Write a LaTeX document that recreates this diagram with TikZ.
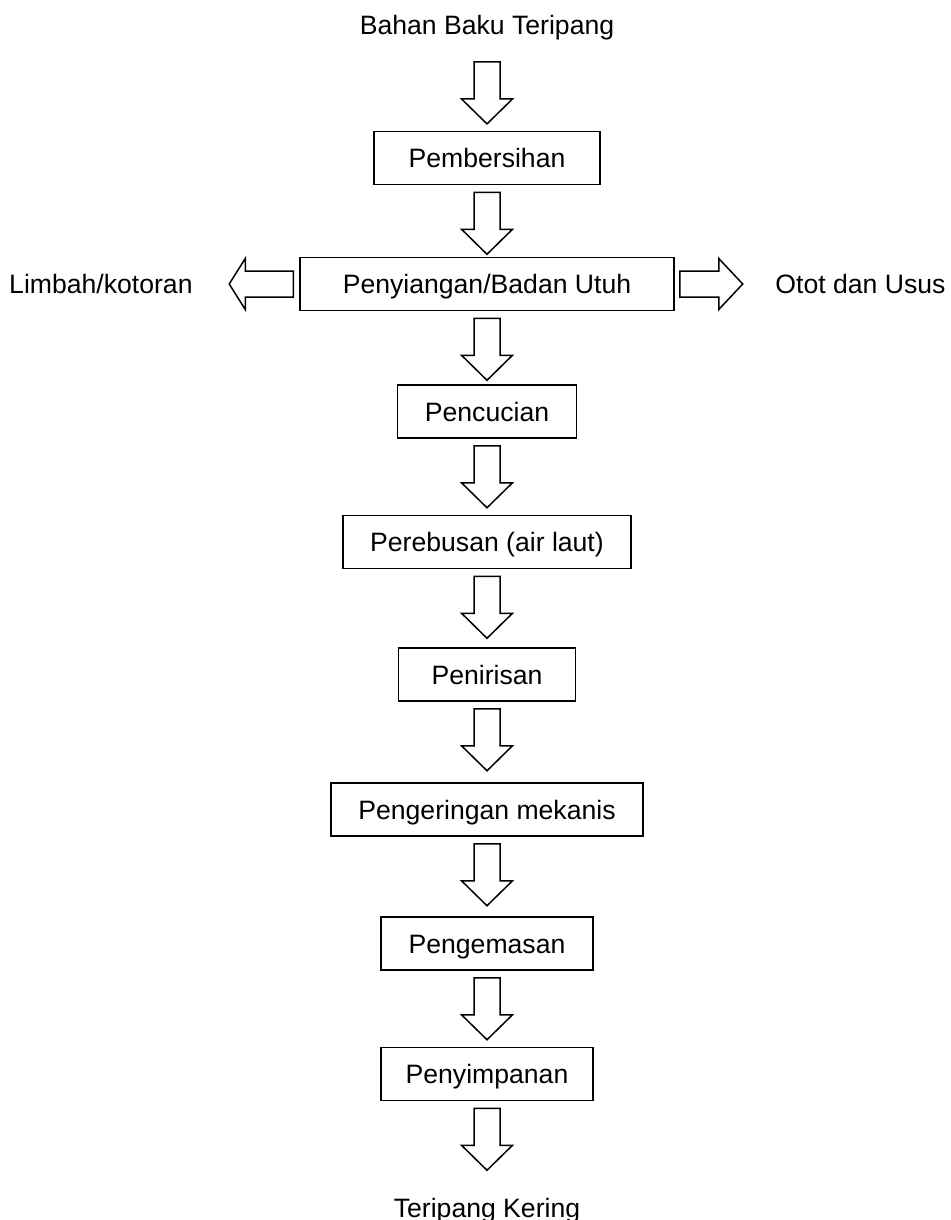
\documentclass[tikz,border=0pt]{standalone}
\usepackage{fontspec}
\setmainfont{Liberation Sans}
\usetikzlibrary{calc}

\tikzset{
  lbl/.style={inner sep=0pt, font=\fontsize{13.3}{16}\selectfont},
  box/.style={draw, line width=0.75pt, minimum height=26.5pt, inner sep=0pt,
    text height=9.6pt, text depth=0pt, font=\fontsize{13.3}{16}\selectfont},
  fatarrow/.style={draw, line width=0.75pt, line join=miter},
  fa gap/.store in=\fagap, fa len/.store in=\falen, fa head/.store in=\fahead,
  fa gap=3.5pt, fa len=31pt, fa head=12.5pt
}
% hollow block arrow from one node anchor towards another
\newcommand\fatarrow[3][]{%
  \begin{scope}[#1]
    \coordinate (fa-s) at ($(#2)!\fagap!(#3)$);
    \coordinate (fa-t) at ($(fa-s)!\falen!(#3)$);
    \coordinate (fa-b) at ($(fa-t)!\fahead!(fa-s)$);
    \draw[fatarrow] ($(fa-s)!6.5pt!90:(fa-t)$) -- ($(fa-b)!6.5pt!90:(fa-t)$)
      -- ($(fa-b)!12.75pt!90:(fa-t)$) -- (fa-t) -- ($(fa-b)!12.75pt!-90:(fa-t)$)
      -- ($(fa-b)!6.5pt!-90:(fa-t)$) -- ($(fa-s)!6.5pt!-90:(fa-t)$) -- cycle;
  \end{scope}}

\begin{document}
\begin{tikzpicture}[x=0.5pt, y=-0.5pt]
  \useasboundingbox (0,0) rectangle (950,1220);

  \node[lbl, anchor=base] (bahan) at (487,35) {Bahan Baku Teripang};
  \node[box, minimum width=113pt] (bersih) at (487,158) {Pembersihan};
  \node[box, minimum width=187pt] (siang) at (487,284) {Penyiangan/Badan Utuh};
  \node[lbl, anchor=east] (limbah) at (193,284) {Limbah/kotoran};
  \node[lbl, anchor=west] (otot) at (775,284) {Otot dan Usus};
  \node[box, minimum width=89.5pt] (cuci) at (487,411.5) {Pencucian};
  \node[box, minimum width=144pt] (rebus) at (487,542) {Perebusan (air laut)};
  \node[box, minimum width=88.5pt] (tiris) at (487,674.5) {Penirisan};
  \node[box, minimum width=156pt] (mesin) at (487,809.5) {Pengeringan mekanis};
  \node[box, minimum width=106pt] (kemas) at (487,943.5) {Pengemasan};
  \node[box, minimum width=106pt] (simpan) at (487,1074) {Penyimpanan};
  \node[lbl, anchor=base] (hasil) at (487,1217) {Teripang Kering};

  % arrows
  \fatarrow[fa gap=10.5pt]{bahan.south}{bersih.north}
  \fatarrow{bersih.south}{siang.north}
  \fatarrow[fa gap=3pt, fa len=32pt, fa head=8pt]{siang.west}{limbah.east}
  \fatarrow[fa gap=2.5pt, fa len=31.5pt, fa head=12pt]{siang.east}{otot.west}
  \fatarrow{siang.south}{cuci.north}
  \fatarrow{cuci.south}{rebus.north}
  \fatarrow{rebus.south}{tiris.north}
  \fatarrow{tiris.south}{mesin.north}
  \fatarrow{mesin.south}{kemas.north}
  \fatarrow{kemas.south}{simpan.north}
  \fatarrow{simpan.south}{hasil.north}
\end{tikzpicture}
\end{document}
